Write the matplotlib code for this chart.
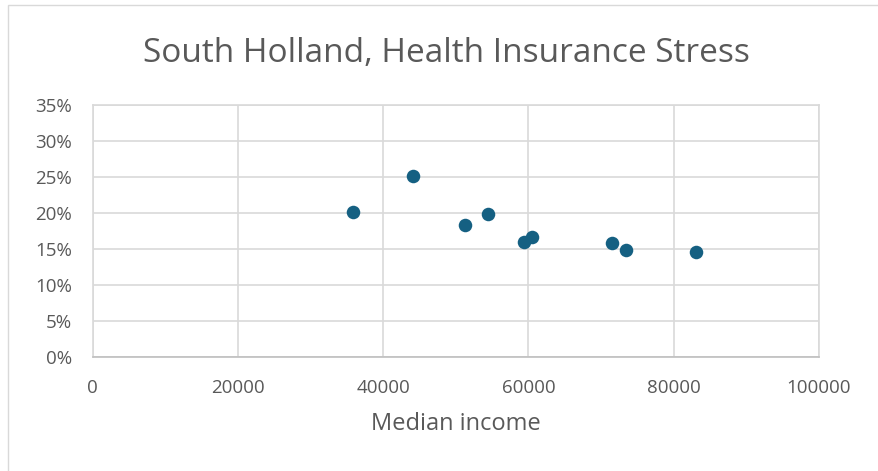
import matplotlib.pyplot as plt
from matplotlib.patches import Rectangle
from matplotlib.ticker import FuncFormatter

plt.rcParams['font.family'] = ['Open Sans', 'DejaVu Sans']

median_income = [35900, 44100, 51300, 54400, 59350, 60450, 71450, 73400, 83000]
insurance_stress = [0.2016, 0.2517, 0.1827, 0.1989, 0.1600, 0.1665, 0.1577, 0.1488, 0.1460]

text_color = '#595959'
grid_color = '#d9d9d9'

fig = plt.figure(figsize=(8.79, 4.71), dpi=100)
ax = fig.add_axes([0.1055, 0.2427, 0.8262, 0.5344])

ax.scatter(median_income, insurance_stress, s=95, color='#156082', zorder=3,
           linewidths=0)

ax.set_xlim(0, 100000)
ax.set_ylim(0, 0.35)
ax.set_xticks(range(0, 100001, 20000))
ax.set_yticks([i * 0.05 for i in range(8)])
ax.yaxis.set_major_formatter(FuncFormatter(lambda v, _: f"{v * 100:.0f}%"))

ax.grid(True, color=grid_color, linewidth=1.2)
ax.set_axisbelow(True)
for spine in ax.spines.values():
    spine.set_color(grid_color)
    spine.set_linewidth(1.2)
ax.spines['bottom'].set_color('#bfbfbf')

ax.tick_params(length=0, colors=text_color, labelsize=13.5)
ax.tick_params(axis='x', pad=16)
ax.tick_params(axis='y', pad=15)

ax.set_xlabel("Median income", color=text_color, fontsize=17, labelpad=11)
fig.text(0.508, 0.887, "South Holland, Health Insurance Stress", ha='center',
         va='center', color=text_color, fontsize=24)

# chart border (partially cropped in the reference)
fig.add_artist(Rectangle((8 / 879, -0.1), 1.2, 1.1 - 5 / 471,
                         transform=fig.transFigure, fill=False,
                         edgecolor=grid_color, linewidth=1))

fig.savefig("out.png", dpi=100)
